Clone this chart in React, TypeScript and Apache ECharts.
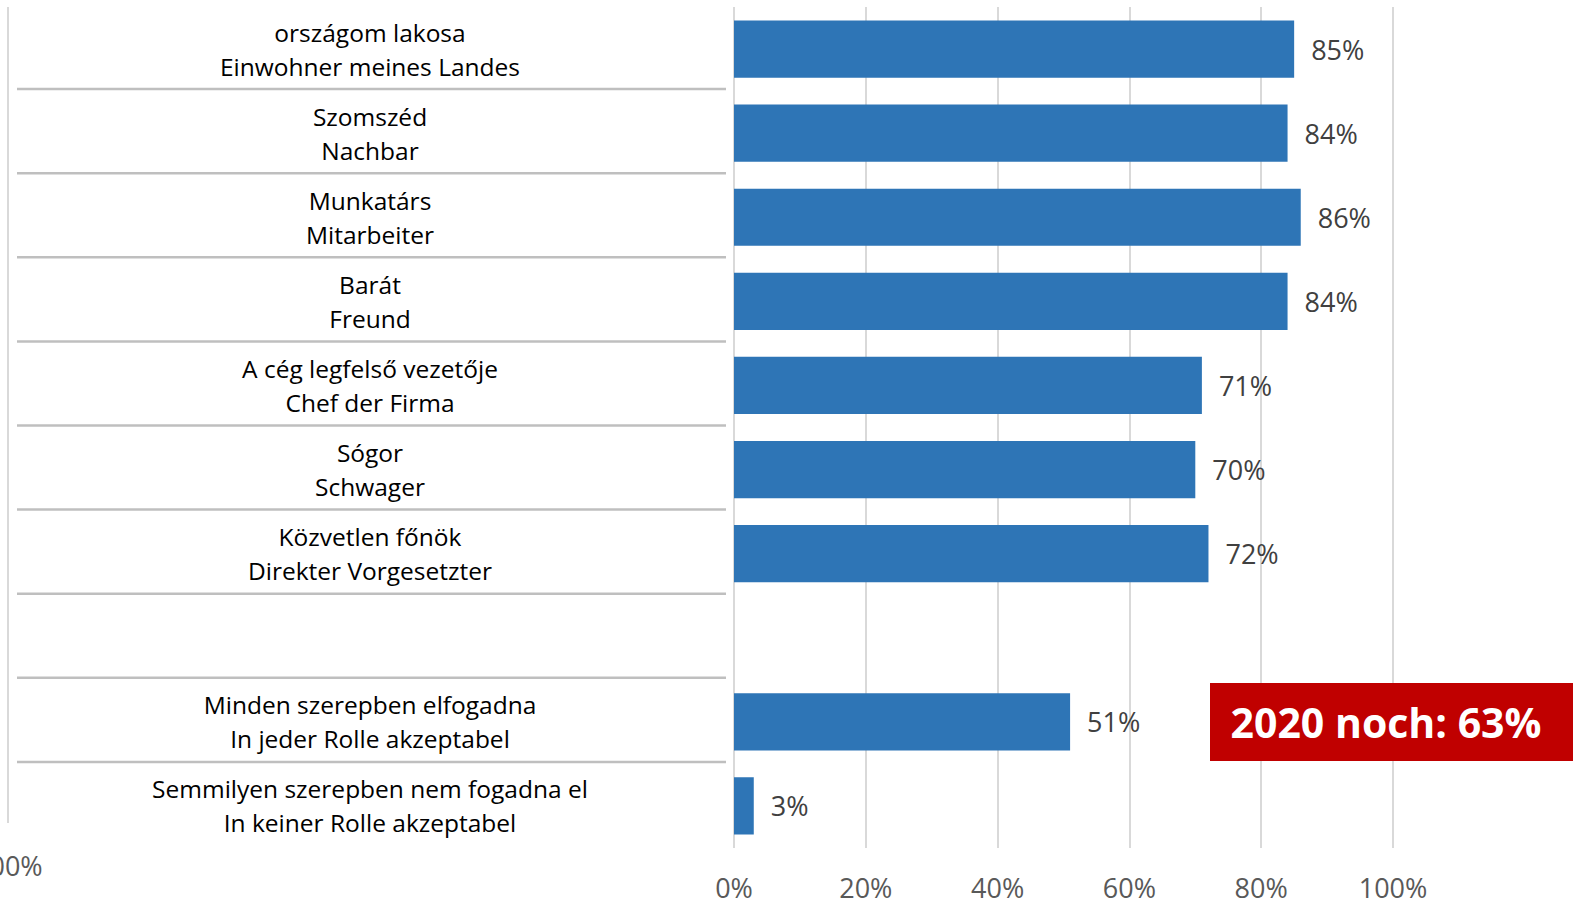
import React, { useEffect, useRef } from "react";
import * as echarts from "echarts";

const categories: string[] = [
  "országom lakosa\nEinwohner meines Landes",
  "Szomszéd\nNachbar",
  "Munkatárs\nMitarbeiter",
  "Barát\nFreund",
  "A cég legfelső vezetője\nChef der Firma",
  "Sógor\nSchwager",
  "Közvetlen főnök\nDirekter Vorgesetzter",
  "",
  "Minden szerepben elfogadna\nIn jeder Rolle akzeptabel",
  "Semmilyen szerepben nem fogadna el\nIn keiner Rolle akzeptabel",
];
const values: (number | null)[] = [85, 84, 86, 84, 71, 70, 72, null, 51, 3];
const axisMin = 0;
const axisMax = 100;
const axisStep = 20;
const calloutText = "2020 noch: 63%";
const cutOffLabel = "100%";

const FONT = "'Open Sans', 'Noto Sans', sans-serif";

export default function App() {
  const ref = useRef<HTMLDivElement>(null);
  useEffect(() => {
    if (!ref.current) return;
    const chart = echarts.init(ref.current, undefined, { renderer: "svg" });
    const option: any = {
      animation: false,
      backgroundColor: "#ffffff",
      grid: { left: 734, right: 187, top: 7, bottom: 57, containLabel: false },
      xAxis: {
        type: "value",
        min: axisMin,
        max: axisMax,
        interval: axisStep,
        axisLine: { show: false },
        axisTick: { show: false },
        splitLine: { show: true, lineStyle: { color: "#d9d9d9", width: 2 } },
        axisLabel: {
          formatter: "{value}%",
          color: "#595959",
          fontSize: 27,
          lineHeight: 27,
          fontFamily: FONT,
          margin: 26,
        },
      },
      yAxis: {
        type: "category",
        inverse: true,
        data: categories,
        axisLine: { show: false },
        axisTick: { show: false },
        splitLine: { show: false },
        axisLabel: {
          interval: 0,
          align: "center",
          margin: 364,
          color: "#000000",
          fontSize: 24.5,
          lineHeight: 34,
          padding: [0, 0, 4, 0],
          fontFamily: FONT,
        },
      },
      series: [
        {
          type: "bar",
          data: values,
          barCategoryGap: "32%",
          itemStyle: { color: "#2E75B6" },
          label: {
            show: true,
            position: "right",
            distance: 17,
            formatter: "{c}%",
            color: "#404040",
            fontSize: 27,
            fontFamily: FONT,
          },
        },
      ],
    };
    chart.setOption(option);

    const graphics: any[] = [];
    for (let i = 0; i < categories.length - 1; i++) {
      const a = chart.convertToPixel({ yAxisIndex: 0 } as any, i as any) as unknown as number;
      const b = chart.convertToPixel({ yAxisIndex: 0 } as any, (i + 1) as any) as unknown as number;
      const y = (a + b) / 2 - 2;
      graphics.push({
        type: "line",
        shape: { x1: 17, y1: y, x2: 726, y2: y },
        style: { stroke: "#bfbfbf", lineWidth: 2.5 },
        silent: true,
      });
    }
    graphics.push({
      type: "line",
      shape: { x1: 8, y1: 7, x2: 8, y2: 823 },
      style: { stroke: "#d9d9d9", lineWidth: 2 },
      silent: true,
    });
    graphics.push({
      type: "text",
      x: 42.7,
      y: 865,
      style: {
        text: cutOffLabel,
        align: "right",
        verticalAlign: "middle",
        fill: "#595959",
        font: `27px ${FONT}`,
      },
      silent: true,
    });
    graphics.push({
      type: "rect",
      shape: { x: 1210, y: 683, width: 363, height: 78 },
      style: { fill: "#C00000" },
      silent: true,
    });
    graphics.push({
      type: "text",
      x: 1386,
      y: 722,
      style: {
        text: calloutText,
        align: "center",
        verticalAlign: "middle",
        fill: "#ffffff",
        font: `bold 41px ${FONT}`,
      },
      silent: true,
    });
    chart.setOption({ graphic: graphics });

    return () => chart.dispose();
  }, []);
  return (
    <div
      ref={ref}
      style={{ position: "absolute", left: 0, top: 0, width: 1580, height: 905 }}
    />
  );
}
